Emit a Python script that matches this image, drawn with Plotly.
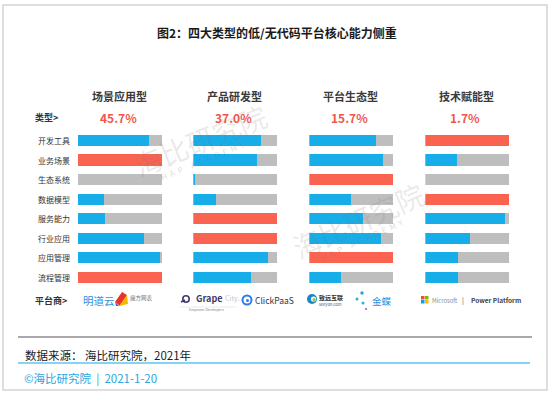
import plotly.graph_objects as go

W, H = 553, 394

# ---------------- data ----------------
categories = ["开发工具", "业务场景", "生态系统", "数据模型", "服务能力", "行业应用", "应用管理", "流程管理"]
types = ["场景应用型", "产品研发型", "平台生态型", "技术赋能型"]
type_shares = ["45.7%", "37.0%", "15.7%", "1.7%"]

scene_values = [0.85, 1.0, 0.0, 0.31, 0.32, 0.79, 0.98, 1.0]
scene_focus = [False, True, False, False, False, False, False, True]
product_values = [0.80, 0.76, 0.02, 0.27, 1.0, 1.0, 0.89, 0.69]
product_focus = [False, False, False, False, True, True, False, False]
ecosystem_values = [0.79, 0.88, 1.0, 0.50, 0.64, 0.85, 1.0, 0.38]
ecosystem_focus = [False, False, True, False, False, False, True, False]
tech_values = [1.0, 0.38, 0.0, 1.0, 0.95, 0.53, 0.39, 0.39]
tech_focus = [True, False, False, True, False, False, False, False]

columns = [
    (scene_values, scene_focus),
    (product_values, product_focus),
    (ecosystem_values, ecosystem_focus),
    (tech_values, tech_focus),
]

title_text = "图2：四大类型的低/无代码平台核心能力侧重"
source_text = "数据来源： 海比研究院，2021年"
footer_text = "©海比研究院  |  2021-1-20"

# ---------------- style ----------------
BLUE = "#17ADE8"
RED = "#FA6350"
GRAY = "#BEBEBE"
PCT_RED = "#F0564A"
FONT = "Noto Sans CJK SC"


def px(x):
    return x / W


def py(y):
    return 1 - y / H


col_px = [(78, 162), (193.3, 277.3), (309.3, 393.3), (425.3, 509.3)]
y_top, y_bot = 130.7, 287.0

fig = go.Figure()
for i, (vals, focus) in enumerate(columns):
    xa = "x" if i == 0 else f"x{i+1}"
    blue = [0 if f else v for v, f in zip(vals, focus)]
    gray = [0 if f else 1 - v for v, f in zip(vals, focus)]
    red = [1 if f else 0 for f in focus]
    for xs, c in ((blue, BLUE), (gray, GRAY), (red, RED)):
        fig.add_trace(go.Bar(x=xs, y=categories, orientation="h", marker=dict(color=c, line=dict(width=0)),
                             width=0.57, xaxis=xa, yaxis="y", showlegend=False, hoverinfo="skip"))

layout = dict(
    width=W, height=H, margin=dict(l=0, r=0, t=0, b=0),
    paper_bgcolor="white", plot_bgcolor="white", barmode="stack",
    font=dict(family=FONT, color="#333333"),
    yaxis=dict(domain=[py(y_bot), py(y_top)], categoryorder="array", categoryarray=categories,
               range=[7.5, -0.5], visible=False, anchor="x", fixedrange=True),
)
for i, (a, b) in enumerate(col_px):
    key = "xaxis" if i == 0 else f"xaxis{i+1}"
    layout[key] = dict(domain=[px(a), px(b)], range=[0, 1], visible=False, anchor="y", fixedrange=True)
fig.update_layout(**layout)

ann = []


def A(text, x, y, size, color="#333333", xanchor="left", **kw):
    ann.append(dict(text=text, x=px(x), y=py(y), xref="paper", yref="paper", showarrow=False,
                    xanchor=xanchor, yanchor="middle", font=dict(size=size, color=color, family=FONT), **kw))


# watermarks
WM = "rgba(120,120,120,0.16)"
A("海比研究院", 200, 140, 28, WM, "center", textangle=-22)
A("H  A  P     A  C  A  D  E  M  Y", 203, 161, 8, "rgba(120,120,120,0.28)", "center", textangle=-22)
A("海比研究院", 358, 220, 28, WM, "center", textangle=-24)
A("H  A  P     A  C  A  D  E  M  Y", 362, 239, 8, "rgba(120,120,120,0.28)", "center", textangle=-24)

# title
A("<b>" + title_text + "</b>", 276.5, 33, 12, "#1a1a1a", "center")

# column headers + shares
for i, (a, b) in enumerate(col_px):
    c = (a + b) / 2
    A("<b>" + types[i] + "</b>", c - 1, 96, 11, "#3a3a3a", "center")
    A("<b>" + type_shares[i] + "</b>", c - 2, 117, 12, PCT_RED, "center")
A("<b>类型></b>", 33, 117, 9, "#333333")

# row labels
for cat in categories:
    ann.append(dict(text=cat, x=px(36), y=cat, xref="paper", yref="y", showarrow=False, xanchor="left",
                    yanchor="middle", font=dict(size=8, color="#333333", family=FONT)))

# platform row
A("<b>平台商></b>", 33, 300, 9, "#333333")
A("明道云", 81, 300, 10.5, "#2C8EE0")
A("魔方网表", 128, 298, 5.5, "#777777")
A("<b>Grape</b>", 194, 298, 9, "#3F3B6E")
A("City.", 223, 298, 7, "#C8C8D0")
A("Empower Developers", 206, 309, 3.5, "#888888", "center")
A("ClickPaaS", 253, 300, 8.5, "#333333")
A("<b>致远互联</b>", 317, 297, 6, "#333333")
A("seeyon.com", 317, 304, 4, "#555555")
A("金蝶", 370, 301, 9.5, "#2C8EE0")
A("Microsoft", 430, 300, 5.8, "#8a8a8a")
A("|", 463, 300, 7, "#555555", "center")
A("<b>Power Platform</b>", 469, 300, 6.5, "#444444")

# footer
A(source_text, 23, 355, 11.5, "#1a1a1a")
A(footer_text, 22, 378, 11.5, "#2AA6E0")

fig.update_layout(annotations=ann)

shapes = []


def rect(x0, y0, x1, y1, fill=None, line=None, lw=0, layer="above"):
    shapes.append(dict(type="rect", xref="paper", yref="paper", x0=px(x0), x1=px(x1), y0=py(y1), y1=py(y0),
                       fillcolor=fill or "rgba(0,0,0,0)", line=dict(color=line or "rgba(0,0,0,0)", width=lw),
                       layer=layer))


def poly(pts, fill):
    d = "M " + " L ".join(f"{px(x):.5f},{py(y):.5f}" for x, y in pts) + " Z"
    shapes.append(dict(type="path", xref="paper", yref="paper", path=d, fillcolor=fill, line=dict(width=0)))


def circ(cx, cy, r, fill=None, line=None, lw=0):
    shapes.append(dict(type="circle", xref="paper", yref="paper", x0=px(cx - r), x1=px(cx + r),
                       y0=py(cy + r), y1=py(cy - r), fillcolor=fill or "rgba(0,0,0,0)",
                       line=dict(color=line or "rgba(0,0,0,0)", width=lw)))


# outer border
rect(3, 5, 547, 390, None, "#D3D3D3", 1.5, "below")
# separator lines
shapes.append(dict(type="line", xref="paper", yref="paper", x0=px(18), x1=px(532), y0=py(337), y1=py(337),
                   line=dict(color="#8C8C8C", width=1.3)))
shapes.append(dict(type="line", xref="paper", yref="paper", x0=px(18), x1=px(530), y0=py(363), y1=py(363),
                   line=dict(color="#5CC6F0", width=1.5)))

# 魔方网表 icon
poly([(115, 302), (122, 292), (127, 295), (120, 306)], "#E8342B")
poly([(119, 306), (127, 295), (128, 304)], "#F5B800")
poly([(115, 302), (119, 306), (116, 306)], "#2B6FD6")
# GrapeCity symbol
circ(186, 299, 3.2, None, "#3F3B6E", 1.6)
shapes.append(dict(type="line", xref="paper", yref="paper", x0=px(181), x1=px(185), y0=py(302), y1=py(300),
                   line=dict(color="#3F3B6E", width=1.6)))
shapes.append(dict(type="line", xref="paper", yref="paper", x0=px(180), x1=px(236), y0=py(307), y1=py(307),
                   line=dict(color="#DDDDDD", width=0.6)))
# ClickPaaS icon
circ(247, 300, 4.5, None, "#2F7BE8", 2)
circ(247.5, 300.5, 1.5, "#2F7BE8")
# 致远 icon
circ(312, 299, 5, "#1E86C8")
circ(313.5, 299, 2.6, "#FFFFFF")
circ(314, 299.5, 1.6, "#8DC63F")
# 金蝶 dots
circ(362, 293, 1.7, "#1BA7E0")
circ(357, 299, 1.5, "#21B8C8")
circ(363, 303, 1.5, "#21B8C8")
circ(366, 309, 1.0, "#A04CC0")
# Microsoft squares
rect(421, 296, 424.5, 299.5, "#F25022")
rect(425, 296, 428.5, 299.5, "#7FBA00")
rect(421, 300, 424.5, 303.5, "#00A4EF")
rect(425, 300, 428.5, 303.5, "#FFB900")

fig.update_layout(shapes=shapes)

fig.write_html("out.html", config={"displayModeBar": False, "staticPlot": True},
               post_script="document.body.style.margin='0';document.body.style.overflow='hidden';")
